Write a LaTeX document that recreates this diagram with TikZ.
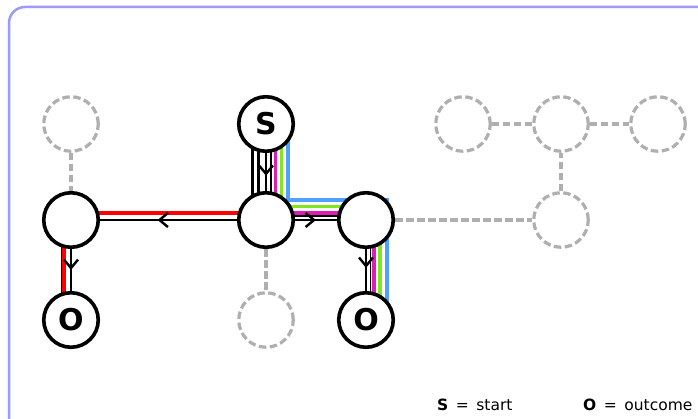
\documentclass[tikz,border=0pt]{standalone}
\usepackage{fontspec}
\setmainfont{DejaVu Sans}
\usetikzlibrary{arrows.meta,decorations.markings}
\definecolor{framecol}{RGB}{155,155,255}
\definecolor{ghost}{RGB}{175,175,175}
\definecolor{pathred}{RGB}{255,0,0}
\definecolor{pathmag}{RGB}{220,30,180}
\definecolor{pathgreen}{RGB}{130,230,30}
\definecolor{pathblue}{RGB}{80,160,255}
\pgfdeclarelayer{background}
\pgfdeclarelayer{edges}
\pgfsetlayers{background,edges,main}
\tikzset{
  state/.style={circle, draw=black, line width=3.6pt, fill=white, minimum size=54.5pt,
    inner sep=0pt, font=\fontsize{30}{30}\selectfont\bfseries},
  ghoststate/.style={circle, draw=ghost, line width=3.2pt, dash pattern=on 7.5pt off 3.5pt,
    fill=white, minimum size=54.5pt, inner sep=0pt},
  ghostlink/.style={draw=ghost, line width=3.2pt, dash pattern=on 7.5pt off 3.5pt},
  route/.style={line width=3.2pt, line join=miter},
  guide/.style={line width=2.4pt, black},
  thinguide/.style={line width=1.6pt, black, line join=miter},
  flow/.style={line width=2.4pt, postaction=decorate, decoration={markings,
    mark=at position #1 with {\arrow{Straight Barb[length=8.5pt,width=14pt]}}}},
  flow/.default=0.5,
  legend/.style={anchor=base west, inner sep=0pt, font=\fontsize{15.5}{15.5}\selectfont},
}
\begin{document}
\begin{tikzpicture}[x=1pt, y=-1pt]
\useasboundingbox (0,0) rectangle (698,419);

% states
\node[ghoststate] (tl) at (71,124) {};
\node[state] (s) at (266,124) {S};
\node[ghoststate] (d1) at (463,124) {};
\node[ghoststate] (d2) at (561,124) {};
\node[ghoststate] (d3) at (658,124) {};
\node[state] (l) at (71,220) {};
\node[state] (c) at (266,220) {};
\node[state] (r) at (366,220) {};
\node[ghoststate] (d4) at (561,220) {};
\node[state] (ol) at (71,320) {O};
\node[ghoststate] (d5) at (266,320) {};
\node[state] (or) at (366,320) {O};

% legend
\node[legend] (keys) at (437,410) {\textbf{S} \,=\, start};
\node[legend] (keyo) at (583,410) {\textbf{O} \,=\, outcome};

\begin{pgfonlayer}{background}
  \fill[white] (0,0) rectangle (698,419);
  \draw[framecol, line width=2.5pt, rounded corners=16pt, fill=white] (9,7) rectangle (740,460);
\end{pgfonlayer}

\begin{pgfonlayer}{edges}
  % unused links
  \draw[ghostlink] (tl) -- (l);
  \draw[ghostlink] (c) -- (d5);
  \draw[ghostlink] (r) -- (d4);
  \draw[ghostlink] (d4) -- (d2);
  \draw[ghostlink] (d1) -- (d2);
  \draw[ghostlink] (d2) -- (d3);

  % routes to the right outcome
  \draw[route, pathblue] ([xshift=22pt]s.center) -- ([xshift=22pt,yshift=20pt]c.center)
    -- ([xshift=21pt,yshift=20pt]r.center) -- ([xshift=21pt]or.center);
  \draw[route, pathgreen] ([xshift=15.5pt]s.center) -- ([xshift=15.5pt,yshift=13.5pt]c.center)
    -- ([xshift=14pt,yshift=13.5pt]r.center) -- ([xshift=14pt]or.center);
  \draw[route, pathmag] ([xshift=9.5pt]s.center) -- ([xshift=9.5pt,yshift=7pt]c.center)
    -- ([xshift=8pt,yshift=7pt]r.center) -- ([xshift=8pt]or.center);
  \draw[thinguide] ([xshift=5pt]s.center) -- ([xshift=5pt,yshift=4pt]c.center)
    -- ([xshift=4.5pt,yshift=4pt]r.center) -- ([xshift=4.5pt]or.center);

  % route to the left outcome
  \draw[route, pathred] ([yshift=7pt]c.center) -- ([xshift=-7pt,yshift=7pt]l.center)
    -- ([xshift=-7pt]ol.center);
  \draw[thinguide] ([xshift=-9.5pt]l.center) -- ([xshift=-9.5pt]ol.center);

  % lines beside the start link
  \draw[guide] ([xshift=-13.5pt]s.center) -- ([xshift=-13.5pt]c.center);
  \draw[guide] ([xshift=-7.5pt]s.center) -- ([xshift=-7.5pt]c.center);

  % directed links
  \draw[flow=0.6] (s) -- (c);
  \draw[flow=0.5] (c) -- (r);
  \draw[flow=0.58] (c) -- (l);
  \draw[flow=0.5] (l) -- (ol);
  \draw[flow=0.45] (r) -- (or);
\end{pgfonlayer}
\end{tikzpicture}
\end{document}
